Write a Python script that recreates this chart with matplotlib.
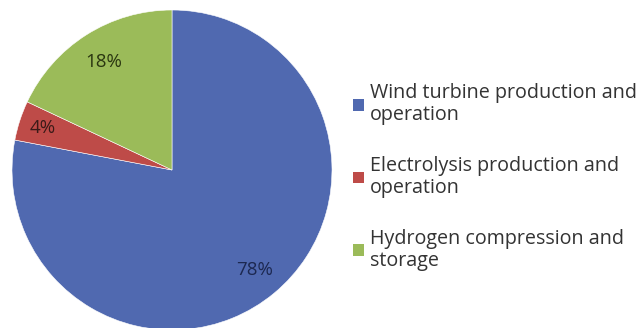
import numpy as np
import matplotlib
matplotlib.use("Agg")
import matplotlib.pyplot as plt
from matplotlib.patches import Patch

labels = ["Wind turbine production and\noperation",
          "Electrolysis production and\noperation",
          "Hydrogen compression and\nstorage"]
shares = [78, 4, 18]
colors = ["#5069B0", "#BE4B48", "#9BBB59"]
text_colors = ["#1C2850", "#3A1A18", "#2A3610"]
label_dist = [0.81, 0.85, 0.80]

plt.rcParams["font.family"] = ["Open Sans", "DejaVu Sans"]

fig = plt.figure(figsize=(6.42, 3.28), dpi=100)
ax = fig.add_axes([12 / 642, -2 / 328, 320 / 642, 320 / 328])
wedges, _ = ax.pie(shares, colors=colors, startangle=90, counterclock=False,
                   radius=1.0, wedgeprops=dict(edgecolor="white", linewidth=0.4))

# percentage labels along each wedge's mid angle
for w, v, d, tc in zip(wedges, shares, label_dist, text_colors):
    ang = np.deg2rad((w.theta1 + w.theta2) / 2)
    ax.text(d * np.cos(ang), d * np.sin(ang), f"{v}%", ha="center", va="center",
            fontsize=13.5, color=tc)
ax.set_xlim(-1, 1)
ax.set_ylim(-1, 1)
ax.set_aspect("equal")
ax.axis("off")

handles = [Patch(facecolor=c, edgecolor="none") for c in colors]
leg = fig.legend(handles, labels, loc="upper left",
                 bbox_to_anchor=(353 / 642, 1 - 83 / 328),
                 frameon=False, fontsize=14.2, handlelength=0.55, handleheight=0.55,
                 handletextpad=0.3, labelspacing=1.55, borderaxespad=0, borderpad=0,
                 labelcolor="#333333")
for t in leg.get_texts():
    t.set_linespacing(1.15)

fig.savefig("out.png", dpi=100)
